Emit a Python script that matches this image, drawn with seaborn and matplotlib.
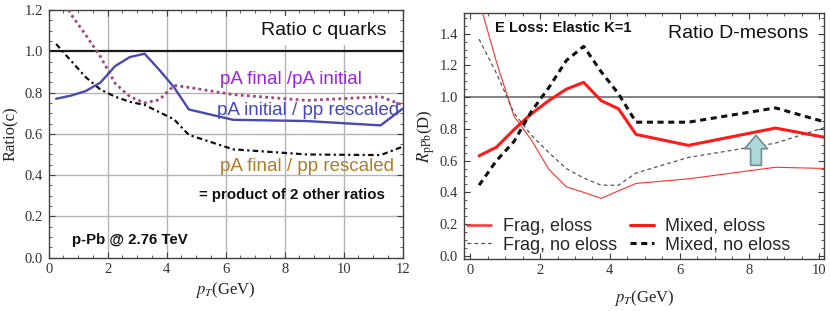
import matplotlib

matplotlib.use("Agg")
import matplotlib.pyplot as plt
import seaborn as sns
from matplotlib.ticker import MultipleLocator

# left panel: charm quark ratios
pt_c = [0.25, 0.75, 1.25, 1.75, 2.25, 2.75, 3.25, 3.75, 4.25, 4.75, 6.25, 8.75, 11.25, 12.0]
init_over_pp = [0.770, 0.785, 0.807, 0.848, 0.928, 0.972, 0.988, 0.910, 0.825, 0.718, 0.668, 0.662, 0.641, 0.722]
final_over_init = [1.32, 1.18, 1.08, 0.975, 0.845, 0.780, 0.750, 0.765, 0.835, 0.825, 0.790, 0.762, 0.780, 0.740]
final_over_pp = [1.035, 0.955, 0.875, 0.815, 0.780, 0.755, 0.740, 0.705, 0.670, 0.595, 0.525, 0.500, 0.497, 0.538]

# right panel: D-meson R_pPb
pt_d = [0.25, 0.75, 1.25, 1.75, 2.25, 2.75, 3.25, 3.75, 4.25, 4.75, 6.25, 8.75, 10.25]
frag_eloss = [1.61, 1.22, 0.88, 0.73, 0.545, 0.435, 0.400, 0.362, 0.410, 0.456, 0.485, 0.558, 0.550]
frag_noeloss = [1.365, 1.15, 0.90, 0.76, 0.650, 0.550, 0.490, 0.445, 0.445, 0.522, 0.620, 0.710, 0.815]
mixed_eloss = [0.630, 0.685, 0.795, 0.895, 0.978, 1.050, 1.093, 0.978, 0.926, 0.765, 0.696, 0.805, 0.743]
mixed_noeloss = [0.445, 0.600, 0.720, 0.910, 1.060, 1.230, 1.320, 1.160, 1.020, 0.842, 0.842, 0.932, 0.838]

arrow_x = 8.19
arrow_from = 0.57
arrow_to = 0.76

sns.set_style("ticks")
plt.rcParams["font.family"] = ["Liberation Sans", "DejaVu Sans"]
plt.rcParams["mathtext.fontset"] = "stix"

serif = ["Liberation Serif", "DejaVu Serif"]
frame = "#404040"

fig = plt.figure(figsize=(8.3, 3.11), dpi=100)
ax1 = fig.add_axes([0.0587, 0.1714, 0.4265, 0.7965])
ax2 = fig.add_axes([0.5587, 0.1682, 0.4341, 0.7900])


def style_axes(ax, ymajor):
    for spine in ax.spines.values():
        spine.set_visible(True)
        spine.set_color(frame)
        spine.set_linewidth(1.0)
    ax.xaxis.set_major_locator(MultipleLocator(2))
    ax.xaxis.set_minor_locator(MultipleLocator(0.5))
    ax.yaxis.set_major_locator(MultipleLocator(ymajor))
    ax.yaxis.set_minor_locator(MultipleLocator(ymajor / 4))
    ax.tick_params(which="both", direction="in", top=True, right=True, color=frame,
                   labelcolor="#333333", labelsize=10.5, pad=4)
    ax.tick_params(which="major", length=4.5, width=0.8)
    ax.tick_params(which="minor", length=2.5, width=0.6)
    for lab in ax.get_xticklabels() + ax.get_yticklabels():
        lab.set_family(serif)
    ax.yaxis.set_major_formatter(plt.FormatStrFormatter("%.1f"))


# ---- left panel ----
for xg in [2, 4, 6, 8, 10]:
    ax1.axvline(xg, color="#b4b4b4", lw=1.0, zorder=0)
for yg in [0.2, 0.4, 0.6, 0.8]:
    ax1.axhline(yg, color="#b4b4b4", lw=1.0, zorder=0)
ax1.axhline(1.0, color="#1a1a1a", lw=1.6, zorder=1)

sns.lineplot(x=pt_c, y=final_over_init, ax=ax1, color="#a0487a", lw=2.0,
             linestyle=(0, (1, 1.2)), zorder=3)
sns.lineplot(x=pt_c, y=final_over_pp, ax=ax1, color="#111111", lw=1.6,
             linestyle=(0, (2.5, 1.5, 1, 1.5)), zorder=3)
sns.lineplot(x=pt_c, y=init_over_pp, ax=ax1, color="#4a4aae", lw=1.7, zorder=4)

ax1.set_xlim(0, 12)
ax1.set_ylim(0, 1.2)
style_axes(ax1, 0.2)
ax1.set_xlabel(r"$p_T$(GeV)", family=serif, fontsize=12, labelpad=3)
ax1.set_ylabel("Ratio(c)", family=serif, fontsize=12, labelpad=4)

ax1.text(11.45, 1.10, "Ratio c quarks", ha="right", va="center", fontsize=14,
         color="#111111", zorder=5,
         bbox=dict(facecolor="white", edgecolor="none", pad=4))
ax1.text(5.81, 0.84, "pA final /pA initial", ha="left", va="baseline", fontsize=13.5,
         color="#a020e8", zorder=5)
ax1.text(5.71, 0.691, "pA initial / pp rescaled", ha="left", va="baseline", fontsize=13.5,
         color="#4646c4", zorder=5)
ax1.text(5.81, 0.421, "pA final / pp rescaled", ha="left", va="baseline", fontsize=13.5,
         color="#b07c24", zorder=5)
ax1.text(5.10, 0.283, "= product of 2 other ratios", ha="left", va="baseline",
         fontsize=10.8, fontweight="bold", color="#111111", zorder=5)
ax1.text(0.79, 0.066, "p-Pb @ 2.76 TeV", ha="left", va="baseline",
         fontsize=10.8, fontweight="bold", color="#111111", zorder=5)

# ---- right panel ----
ax2.axhline(1.0, color="#7a7a7a", lw=1.3, zorder=0)
sns.lineplot(x=pt_d, y=frag_eloss, ax=ax2, color="#ff3030", lw=0.8,
             label="Frag, eloss", zorder=3)
sns.lineplot(x=pt_d, y=frag_noeloss, ax=ax2, color="#555555", lw=0.9,
             linestyle=(0, (3, 2.5)), label="Frag, no eloss", zorder=3)
sns.lineplot(x=pt_d, y=mixed_eloss, ax=ax2, color="#ff1a1a", lw=2.2,
             label="Mixed, eloss", zorder=3)
sns.lineplot(x=pt_d, y=mixed_noeloss, ax=ax2, color="#111111", lw=2.2,
             linestyle=(0, (2, 1.5)), label="Mixed, no eloss", zorder=3)

ax2.annotate("", xy=(arrow_x, arrow_to), xytext=(arrow_x, arrow_from), zorder=6,
             arrowprops=dict(arrowstyle="simple,head_width=1.1,head_length=0.65,tail_width=0.52",
                             mutation_scale=15, shrinkA=0, shrinkB=0,
                             fc="#acd8da", ec="#6f8f91", lw=1.2))

ax2.set_xlim(-0.19, 10.14)
ax2.set_ylim(-0.018, 1.53)
style_axes(ax2, 0.2)
ax2.set_xlabel(r"$p_T$(GeV)", family=serif, fontsize=12, labelpad=8)
ax2.set_ylabel(r"$R_{\mathrm{pPb}}$(D)", family=serif, fontsize=12, labelpad=2)

ax2.text(0.716, 1.412, "E Loss: Elastic K=1", ha="left", va="baseline",
         fontsize=10.6, fontweight="bold", color="#111111")
ax2.text(9.68, 1.371, "Ratio D-mesons", ha="right", va="baseline", fontsize=14,
         color="#111111")

leg = ax2.legend(loc="lower left", bbox_to_anchor=(0.01, 0.02), ncol=2, frameon=False,
                 fontsize=13, handlelength=1.3, handletextpad=0.65, columnspacing=0.75,
                 labelspacing=0.1, borderpad=0, borderaxespad=0)
leg.get_lines()[0].set_linewidth(1.8)

fig.savefig("out.png", dpi=100)
plt.close(fig)
